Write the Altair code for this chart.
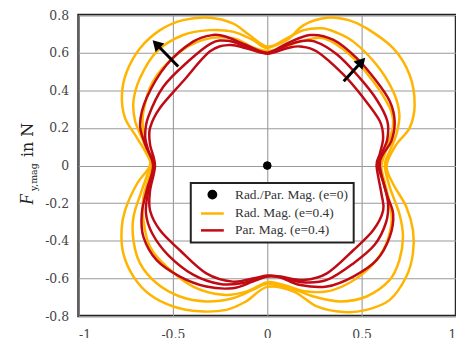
import altair as alt
import pandas as pd

# ---------------- data ----------------
names = ["Rad./Par. Mag. (e=0)", "Rad. Mag. (e=0.4)", "Par. Mag. (e=0.4)"]
colors = ["#000000", "#FFB400", "#C00A14"]

# Radial magnetisation (yellow), three loops
rad1_x = [0.632, 0.684, 0.754, 0.781, 0.754, 0.667, 0.526, 0.431, 0.316, 0.193, 0.105, 0.0, -0.095, -0.183, -0.305, -0.446, -0.568, -0.674, -0.744, -0.77, -0.754, -0.691, -0.639, -0.621, -0.691, -0.754, -0.772, -0.763, -0.709, -0.621, -0.498, -0.358, -0.217, -0.112, 0.0, 0.14, 0.263, 0.404, 0.526, 0.649, 0.737, 0.772, 0.772, 0.737, 0.667]
rad1_y = [0.0, 0.113, 0.20, 0.325, 0.483, 0.624, 0.73, 0.773, 0.786, 0.747, 0.668, 0.633, 0.694, 0.756, 0.786, 0.773, 0.72, 0.624, 0.5, 0.377, 0.254, 0.149, 0.061, 0.0, -0.098, -0.239, -0.344, -0.467, -0.59, -0.687, -0.749, -0.775, -0.767, -0.722, -0.645, -0.67, -0.749, -0.779, -0.767, -0.714, -0.59, -0.467, -0.344, -0.22, -0.098]

rad2_x = [0.623, 0.649, 0.684, 0.70, 0.667, 0.579, 0.456, 0.36, 0.289, 0.193, 0.105, 0.0, -0.077, -0.183, -0.305, -0.446, -0.586, -0.674, -0.709, -0.70, -0.665, -0.63, -0.621, -0.665, -0.709, -0.709, -0.674, -0.586, -0.463, -0.323, -0.183, -0.077, 0.0, 0.123, 0.246, 0.386, 0.526, 0.649, 0.70, 0.719, 0.70, 0.649]
rad2_y = [0.0, 0.078, 0.166, 0.272, 0.395, 0.536, 0.659, 0.71, 0.73, 0.72, 0.677, 0.625, 0.668, 0.712, 0.72, 0.694, 0.606, 0.466, 0.342, 0.237, 0.149, 0.061, 0.0, -0.133, -0.274, -0.397, -0.52, -0.626, -0.696, -0.722, -0.705, -0.661, -0.63, -0.652, -0.696, -0.722, -0.696, -0.608, -0.503, -0.379, -0.256, -0.115]

rad3_x = [0.605, 0.64, 0.667, 0.649, 0.561, 0.438, 0.298, 0.175, 0.08, 0.0, -0.08, -0.183, -0.34, -0.481, -0.605, -0.656, -0.656, -0.625, -0.61, -0.656, -0.656, -0.621, -0.533, -0.393, -0.235, -0.112, 0.0, 0.088, 0.211, 0.351, 0.509, 0.614, 0.658, 0.649, 0.62]
rad3_y = [0.0, 0.113, 0.219, 0.307, 0.448, 0.589, 0.677, 0.659, 0.625, 0.61, 0.63, 0.677, 0.668, 0.589, 0.448, 0.289, 0.166, 0.06, 0.0, -0.168, -0.291, -0.432, -0.538, -0.643, -0.687, -0.67, -0.62, -0.635, -0.67, -0.661, -0.573, -0.45, -0.309, -0.203, -0.08]

# Parallel magnetisation (red), three loops
par1_x = [0.596, 0.614, 0.658, 0.675, 0.649, 0.579, 0.474, 0.351, 0.228, 0.105, 0.0, -0.112, -0.217, -0.288, -0.393, -0.533, -0.639, -0.674, -0.647, -0.605, -0.639, -0.665, -0.656, -0.586, -0.463, -0.323, -0.183, -0.077, 0.0, 0.07, 0.175, 0.316, 0.456, 0.579, 0.649, 0.667, 0.632]
par1_y = [0.0, 0.061, 0.131, 0.237, 0.342, 0.448, 0.571, 0.668, 0.694, 0.65, 0.6, 0.641, 0.685, 0.694, 0.659, 0.536, 0.36, 0.219, 0.113, 0.0, -0.133, -0.256, -0.379, -0.503, -0.59, -0.643, -0.652, -0.617, -0.59, -0.595, -0.635, -0.643, -0.59, -0.503, -0.379, -0.256, -0.15]

par2_x = [0.588, 0.605, 0.636, 0.636, 0.58, 0.49, 0.37, 0.25, 0.17, 0.1, 0.0, -0.112, -0.21, -0.297, -0.42, -0.55, -0.63, -0.647, -0.63, -0.6, -0.63, -0.643, -0.61, -0.525, -0.393, -0.25, -0.13, -0.05, 0.0, 0.07, 0.184, 0.316, 0.456, 0.57, 0.63, 0.64, 0.618]
par2_y = [0.0, 0.061, 0.14, 0.237, 0.35, 0.466, 0.59, 0.66, 0.66, 0.637, 0.597, 0.633, 0.663, 0.65, 0.553, 0.42, 0.26, 0.16, 0.08, 0.0, -0.133, -0.25, -0.36, -0.476, -0.58, -0.63, -0.625, -0.6, -0.588, -0.592, -0.62, -0.608, -0.52, -0.42, -0.3, -0.2, -0.1]

par3_x = [0.579, 0.596, 0.614, 0.596, 0.509, 0.404, 0.263, 0.175, 0.105, 0.0, -0.112, -0.2, -0.305, -0.446, -0.568, -0.621, -0.621, -0.595, -0.621, -0.621, -0.568, -0.463, -0.323, -0.183, -0.077, 0.0, 0.07, 0.193, 0.316, 0.456, 0.561, 0.614, 0.605]
par3_y = [0.0, 0.061, 0.149, 0.237, 0.36, 0.483, 0.606, 0.633, 0.624, 0.595, 0.624, 0.641, 0.606, 0.448, 0.307, 0.2, 0.113, 0.0, -0.133, -0.239, -0.344, -0.45, -0.573, -0.617, -0.6, -0.585, -0.59, -0.608, -0.573, -0.45, -0.344, -0.239, -0.15]

# centre point (e=0)
center_x = [0.0]
center_y = [0.0]

# arrows (tail -> head)
arrow_x = [-0.472, 0.405]
arrow_y = [0.527, 0.448]
arrow_x2 = [-0.588, 0.500]
arrow_y2 = [0.646, 0.552]
arrow_angle = [316, 43]

x_ticks = [-1, -0.5, 0, 0.5, 1]
y_ticks = [-0.8, -0.6, -0.4, -0.2, 0, 0.2, 0.4, 0.6, 0.8]

# ---------------- build tables ----------------
loops = [
    ("rad1", names[1], rad1_x, rad1_y),
    ("rad2", names[1], rad2_x, rad2_y),
    ("rad3", names[1], rad3_x, rad3_y),
    ("par1", names[2], par1_x, par1_y),
    ("par2", names[2], par2_x, par2_y),
    ("par3", names[2], par3_x, par3_y),
]
rows = []
for cid, ser, xs, ys in loops:
    for i, (xv, yv) in enumerate(zip(xs, ys)):
        rows.append({"curve": cid, "series": ser, "idx": i, "x": xv, "y": yv})
curves = pd.DataFrame(rows)
center = pd.DataFrame({"x": center_x, "y": center_y, "series": [names[0]]})
arrows = pd.DataFrame({"x": arrow_x, "y": arrow_y, "x2": arrow_x2, "y2": arrow_y2, "ang": arrow_angle})

SERIF = "DejaVu Serif"
LEG_FONT = "Liberation Serif"

lab_expr = "datum.value < 0 ? '-' + format(-datum.value, '~g') : format(datum.value, '~g')"
x_axis = alt.Axis(title=None, values=x_ticks, labelExpr=lab_expr, ticks=False,
                  domain=False, labelPadding=13, labelFont=SERIF, labelFontSize=12.5,
                  labelOverlap=False, labelColor="#444", gridColor="#9a9a9a", gridWidth=1.1)
y_axis = alt.Axis(title=None, values=y_ticks, labelExpr=lab_expr, ticks=False,
                  domain=False, labelPadding=10, labelFont=SERIF, labelFontSize=12.5,
                  labelOverlap=False, labelColor="#444", gridColor="#9a9a9a", gridWidth=1.1)
x_scale = alt.Scale(domain=[-1, 1], nice=False, zero=False)
y_scale = alt.Scale(domain=[-0.8, 0.8], nice=False, zero=False)


def X(field):
    return alt.X(field, scale=x_scale, axis=x_axis)


def Y(field):
    return alt.Y(field, scale=y_scale, axis=y_axis)


color_scale = alt.Scale(domain=names, range=colors)
line_path = "M-3.1,0H3.1"
shape_scale = alt.Scale(domain=names, range=["circle", line_path, line_path])

leg = alt.Legend(title=None, orient="none", legendX=113, legendY=169)

lines = alt.Chart(curves).mark_line(strokeWidth=2.5, interpolate="cardinal-closed").encode(
    x=X("x:Q"), y=Y("y:Q"),
    order="idx:Q",
    detail="curve:N",
    color=alt.Color("series:N", scale=color_scale, legend=leg),
)

dot = alt.Chart(center).mark_point(filled=True, size=60, opacity=1, strokeWidth=1).encode(
    x=X("x:Q"), y=Y("y:Q"),
    color=alt.Color("series:N", scale=color_scale, legend=leg),
    stroke=alt.Stroke("series:N", scale=color_scale, legend=leg),
    shape=alt.Shape("series:N", scale=shape_scale, legend=leg),
)

shafts = alt.Chart(arrows).mark_rule(strokeWidth=3, color="black").encode(
    x=X("x:Q"), y=Y("y:Q"), x2="x2:Q", y2="y2:Q")
heads = alt.Chart(arrows).mark_point(shape="triangle-up", filled=True, size=150,
                                      color="black", opacity=1).encode(
    x=X("x2:Q"), y=Y("y2:Q"), angle=alt.Angle("ang:Q", scale=None))

title_F = alt.Chart(pd.DataFrame({"t": ["F"]})).mark_text(
    font="Liberation Serif", fontStyle="italic", fontSize=18, angle=270,
    align="left", baseline="alphabetic", color="#222").encode(
    text="t:N", x=alt.value(-46), y=alt.value(191))
title_sub = alt.Chart(pd.DataFrame({"t": ["y,mag"]})).mark_text(
    font=SERIF, fontSize=9.5, angle=270, align="left", baseline="alphabetic",
    color="#222").encode(text="t:N", x=alt.value(-42), y=alt.value(177))
title_rest = alt.Chart(pd.DataFrame({"t": ["in N"]})).mark_text(
    font=SERIF, fontSize=16, angle=270, align="left", baseline="alphabetic",
    color="#222").encode(text="t:N", x=alt.value(-46), y=alt.value(143))

chart = alt.layer(lines, dot, shafts, heads, title_F, title_sub, title_rest).properties(
    width=380, height=303,
    padding={"left": 11, "top": 0, "right": 0, "bottom": 0},
).configure_view(
    stroke="#222", strokeWidth=2.5
).configure_legend(
    labelFont=LEG_FONT, labelFontSize=13.5, labelColor="#333",
    strokeColor="#222", strokeWidth=2, fillColor="white", padding=5,
    symbolStrokeWidth=2.5, symbolSize=55, symbolOffset=10, labelOffset=16,
    rowPadding=2,
)

chart.save("out.html", embed_options={"renderer": "svg", "actions": False})
